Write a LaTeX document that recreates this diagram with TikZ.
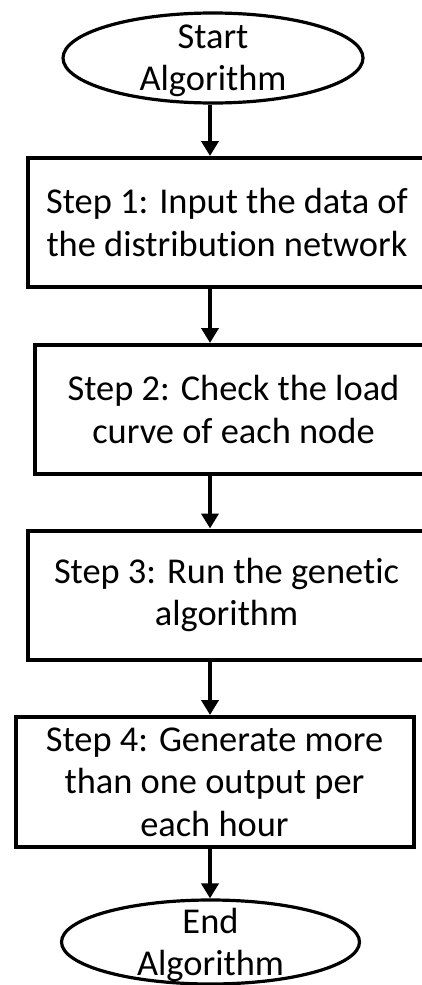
\documentclass[tikz,border=0pt]{standalone}
\usepackage{fontspec}
\setmainfont{Carlito}[Ligatures=NoCommon]
\usetikzlibrary{shapes.geometric,arrows.meta}

\begin{document}
\begin{tikzpicture}[x=0.5pt, y=-0.5pt,
  every node/.style={font=\fontsize{18.2}{21.2}\selectfont},
  box/.style={draw, line width=2pt, minimum width=199pt, minimum height=64.5pt,
    align=center, inner sep=0pt},
  term/.style={draw, ellipse, line width=1.6pt, inner sep=0pt},
  txt/.style={align=center, inner sep=0pt},
  arr/.style={line width=2.2pt, -{Triangle[width=8.5pt,length=7.5pt]}}]

  % page, the step boxes run past the right edge
  \useasboundingbox (0,0) rectangle (422,985);
  \fill[white] (0,0) rectangle (422,985);
  \clip (0,0) rectangle (422,985);

  \coordinate (spine) at (210,0);

  % start
  \node[term, minimum width=150pt, minimum height=45pt] (start) at (213,58) {};
  \node[txt] (starttext) at (213,61) {Start\\Algorithm};

  % steps
  \node[box] (s1) at (227,222.5) {Step 1: Input the data of\\the distribution network};
  \node[box] (s2) at (233.5,409.5) {Step 2: Check the load\\curve of each node};
  \node[box] (s3) at (226.5,595) {Step 3: Run the genetic\\algorithm};
  \node[box, minimum height=65pt] (s4) at (214.5,782)
    {Step 4: Generate more\\than one output per\\each hour};

  % end
  \node[term, minimum width=149pt, minimum height=42pt] (end) at (210.5,942) {};
  \node[txt] (endtext) at (210.5,945) {End\\Algorithm};

  % flow
  \foreach \a/\b in {start/s1, s1/s2, s2/s3, s3/s4, s4/end}
    \draw[arr] (\a.south -| spine) -- (\b.north -| spine);

\end{tikzpicture}
\end{document}
